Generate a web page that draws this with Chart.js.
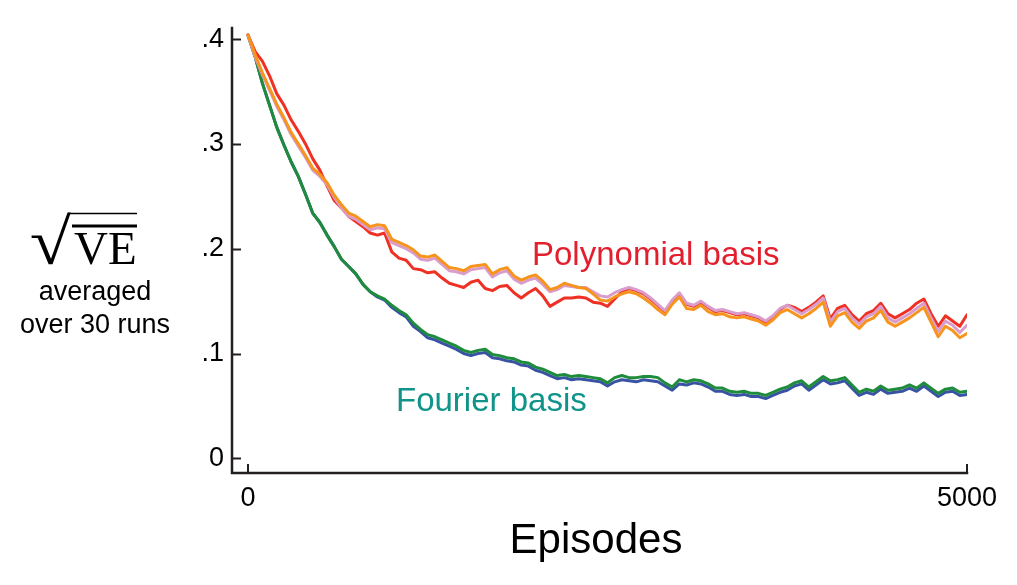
<!DOCTYPE html>
<html><head><meta charset="utf-8">
<script src="https://cdn.jsdelivr.net/npm/chart.js@4"></script>
<style>html,body{margin:0;padding:0;background:#fff;overflow:hidden}</style>
</head><body>
<canvas id="c" width="1017" height="585" style="display:block;width:1017px;height:585px"></canvas>
<script>
// Episodes between samples
const STEP = 50;

// Polynomial basis runs
const polyRed = [
.404,.388,.379,.365,.348,.337,.323,.312,.300,.286,
.275,.260,.246,.239,.231,.226,.221,.215,.213,.215,
.197,.191,.189,.181,.180,.177,.178,.172,.167,.165,
.163,.168,.170,.162,.160,.164,.165,.158,.153,.158,
.162,.155,.145,.149,.153,.153,.154,.153,.149,.148,
.145,.152,.159,.162,.160,.157,.152,.146,.140,.150,
.157,.147,.145,.149,.144,.140,.141,.139,.137,.138,
.136,.134,.130,.135,.142,.146,.144,.140,.144,.149,
.155,.133,.143,.146,.137,.131,.138,.141,.148,.138,
.134,.138,.142,.148,.152,.138,.126,.136,.131,.126,
.137];
const polyPink = [
.404,.383,.366,.351,.336,.323,.309,.298,.287,.275,
.269,.261,.249,.239,.231,.228,.223,.218,.220,.219,
.206,.203,.200,.196,.190,.189,.191,.185,.179,.178,
.176,.180,.181,.182,.173,.177,.179,.171,.167,.170,
.172,.166,.159,.161,.165,.164,.163,.163,.159,.155,
.154,.158,.161,.163,.161,.158,.153,.147,.141,.151,
.158,.148,.146,.150,.145,.141,.142,.140,.138,.139,
.137,.135,.131,.136,.143,.146,.142,.138,.142,.147,
.153,.130,.140,.143,.134,.128,.135,.138,.145,.134,
.130,.134,.138,.143,.148,.134,.121,.131,.127,.120,
.127];
const polyOrange = [
.404,.385,.368,.353,.338,.325,.311,.300,.289,.277,
.271,.263,.251,.242,.234,.231,.226,.221,.223,.222,
.209,.206,.203,.199,.193,.192,.194,.188,.182,.181,
.179,.183,.184,.185,.176,.180,.182,.174,.170,.173,
.175,.169,.161,.163,.167,.165,.163,.162,.157,.151,
.150,.154,.157,.159,.157,.153,.148,.142,.137,.147,
.154,.143,.142,.146,.140,.137,.138,.135,.134,.135,
.133,.131,.127,.132,.139,.142,.138,.134,.138,.143,
.149,.126,.136,.139,.130,.124,.131,.134,.141,.130,
.126,.130,.134,.139,.144,.130,.116,.126,.122,.115,
.119];

// Fourier basis runs
const fourierGreen = [
.404,.383,.358,.337,.316,.299,.283,.269,.252,.234,
.225,.213,.202,.190,.183,.176,.166,.159,.155,.152,
.146,.141,.137,.129,.123,.118,.116,.113,.110,.107,
.103,.101,.103,.104,.099,.098,.096,.095,.092,.091,
.087,.085,.082,.079,.080,.078,.079,.078,.077,.076,
.072,.077,.079,.077,.077,.078,.078,.077,.072,.068,
.075,.073,.075,.074,.071,.067,.067,.064,.063,.064,
.062,.062,.060,.063,.066,.068,.072,.074,.068,.073,
.078,.074,.075,.077,.070,.063,.066,.064,.069,.065,
.066,.067,.070,.067,.072,.067,.062,.066,.067,.063,
.064];
const fourierBlue = [
.404,.383,.358,.337,.316,.299,.283,.269,.252,.234,
.225,.213,.202,.190,.183,.176,.166,.159,.154,.151,
.144,.139,.135,.126,.121,.115,.113,.110,.107,.104,
.100,.098,.100,.101,.096,.095,.093,.092,.089,.088,
.084,.082,.079,.076,.077,.075,.076,.075,.074,.073,
.069,.073,.075,.074,.073,.075,.074,.073,.069,.065,
.071,.070,.072,.071,.068,.064,.064,.061,.060,.061,
.059,.059,.057,.060,.063,.065,.069,.071,.065,.070,
.075,.071,.072,.074,.067,.060,.063,.061,.066,.062,
.063,.064,.067,.064,.069,.064,.059,.063,.064,.060,
.061];

const yTickValues = [0, 0.1, 0.2, 0.3, 0.4];
const yTickLabels = ['0', '.1', '.2', '.3', '.4'];
const xTickValues = [0, 5000];
const xTickLabels = ['0', '5000'];

const episodes = polyRed.map((_, i) => i * STEP);
const toPts = arr => arr.map((v, i) => ({x: episodes[i], y: v}));

const SANS = '"Liberation Sans", Arial, Helvetica, sans-serif';
const SERIF = '"Liberation Serif", "Times New Roman", serif';
const AXIS = '#231f20';

const annot = {
  id: 'annot',
  afterDraw(chart) {
    const ctx = chart.ctx, ca = chart.chartArea;
    const xs = chart.scales.x, ys = chart.scales.y;
    ctx.save();
    // axis lines
    ctx.strokeStyle = AXIS; ctx.lineWidth = 2.5; ctx.lineCap = 'square';
    ctx.beginPath();
    ctx.moveTo(ca.left, ca.top); ctx.lineTo(ca.left, ca.bottom); ctx.lineTo(ca.right, ca.bottom);
    ctx.stroke();
    // inward ticks
    ctx.lineWidth = 2; ctx.lineCap = 'butt';
    ys.ticks.forEach(t => {
      const p = Math.round(ys.getPixelForValue(t.value)) + 0.5;
      ctx.beginPath(); ctx.moveTo(ca.left, p); ctx.lineTo(ca.left + 9, p); ctx.stroke();
    });
    xs.ticks.forEach(t => {
      const p = Math.round(xs.getPixelForValue(t.value));
      ctx.beginPath(); ctx.moveTo(p, ca.bottom); ctx.lineTo(p, ca.bottom - 9); ctx.stroke();
    });
    ctx.restore();

    ctx.save();
    // axis title
    ctx.fillStyle = '#000'; ctx.textBaseline = 'alphabetic';
    ctx.font = '42px ' + SANS; ctx.textAlign = 'center';
    ctx.fillText('Episodes', 596, 553);
    // series labels
    ctx.textAlign = 'left'; ctx.font = '33px ' + SANS;
    ctx.fillStyle = '#e31e2d'; ctx.fillText('Polynomial basis', 532, 265);
    ctx.fillStyle = '#10948a'; ctx.fillText('Fourier basis', 396, 411);
    // y label
    ctx.fillStyle = '#000';
    ctx.font = '27px ' + SANS; ctx.textAlign = 'center';
    ctx.fillText('averaged', 95, 300);
    ctx.fillText('over 30 runs', 95, 333);
    // VE
    ctx.font = '47px ' + SERIF; ctx.textAlign = 'left';
    ctx.fillText('VE', 74, 264);
    // radical sign, fitted into its box
    ctx.font = '60px ' + SERIF;
    const m = ctx.measureText('√');
    const gw = m.actualBoundingBoxLeft + m.actualBoundingBoxRight;
    const gh = m.actualBoundingBoxAscent + m.actualBoundingBoxDescent;
    const bx0 = 31, by0 = 212, bw = 40, bh = 53;
    ctx.translate(bx0, by0);
    ctx.scale(bw / gw, bh / gh);
    ctx.fillText('√', m.actualBoundingBoxLeft, m.actualBoundingBoxAscent);
    ctx.setTransform(1, 0, 0, 1, 0, 0);
    // vinculum and overline
    ctx.strokeStyle = '#000';
    ctx.lineWidth = 1.6;
    ctx.beginPath(); ctx.moveTo(68, 213.5); ctx.lineTo(137, 213.5); ctx.stroke();
    ctx.lineWidth = 3;
    ctx.beginPath(); ctx.moveTo(72, 226); ctx.lineTo(137, 226); ctx.stroke();
    ctx.restore();
  }
};

const ds = (label, data, color, order) => ({
  label, data: toPts(data), borderColor: color, backgroundColor: color,
  borderWidth: 3, pointRadius: 0, tension: 0, fill: false, order
});

new Chart(document.getElementById('c').getContext('2d'), {
  type: 'line',
  data: {
    datasets: [
      ds('Polynomial (orange)', polyOrange, '#f7941d', 1),
      ds('Polynomial (pink)', polyPink, '#d99ccb', 2),
      ds('Polynomial (red)', polyRed, '#ee3124', 3),
      ds('Fourier (green)', fourierGreen, '#1f8c3b', 4),
      ds('Fourier (blue)', fourierBlue, '#3953a4', 5)
    ]
  },
  options: {
    responsive: false, animation: false, devicePixelRatio: 1,
    layout: { padding: { top: 28, right: 50, left: 0, bottom: 0 } },
    plugins: { legend: { display: false }, tooltip: { enabled: false } },
    elements: { line: { borderJoinStyle: 'round', borderCapStyle: 'round' } },
    scales: {
      x: {
        type: 'linear', min: -111, max: 5000,
        grid: { display: false, drawTicks: false, tickLength: 0 }, border: { display: false },
        afterBuildTicks: s => { s.ticks = xTickValues.map(v => ({ value: v })); },
        afterFit: s => { s.height = 112; },
        ticks: { autoSkip: false, maxRotation: 0, padding: 9, color: '#000',
          font: { family: SANS, size: 27 },
          callback: (v, i) => xTickLabels[i] }
      },
      y: {
        type: 'linear', min: -0.014, max: 0.4106,
        grid: { display: false, drawTicks: false, tickLength: 0 }, border: { display: false },
        afterBuildTicks: s => { s.ticks = yTickValues.map(v => ({ value: v })); },
        afterFit: s => { s.width = 232; },
        ticks: { autoSkip: false, padding: 8, color: '#000',
          font: { family: SANS, size: 27 },
          callback: (v, i) => yTickLabels[i] }
      }
    }
  },
  plugins: [annot]
});
</script>
</body></html>
